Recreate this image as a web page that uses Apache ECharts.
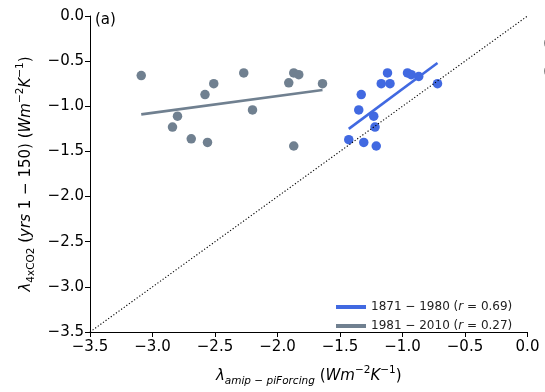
<!DOCTYPE html>
<html>
<head>
<meta charset="utf-8">
<script src="https://cdn.jsdelivr.net/npm/echarts@6/dist/echarts.min.js"></script>
<style>
html,body{margin:0;padding:0;background:#fff;}
#c{width:545px;height:392px;}
</style>
</head>
<body>
<div id="c"></div>
<script>
// ---- data ----
const blueX = [-1.12, -1.17, -1.10, -1.33, -1.35, -1.23, -1.22, -1.43, -1.31, -1.21, -0.96, -0.93, -0.87, -0.72];
const blueY = [-0.63, -0.75, -0.75, -0.87, -1.04, -1.11, -1.23, -1.37, -1.40, -1.44, -0.63, -0.65, -0.67, -0.75];
const grayX = [-3.09, -2.51, -2.58, -2.27, -2.20, -1.91, -1.87, -1.83, -1.64, -2.80, -2.84, -2.69, -2.56, -1.87];
const grayY = [-0.66, -0.75, -0.87, -0.63, -1.04, -0.74, -0.63, -0.65, -0.75, -1.11, -1.23, -1.36, -1.40, -1.44];
const blueFitX = [-1.43, -0.72];
const blueFitY = [-1.25, -0.52];
const grayFitX = [-3.09, -1.64];
const grayFitY = [-1.09, -0.82];
const oneToOneX = [-3.5, 0.0];
const oneToOneY = [-3.5, 0.0];
const blueName = '1871 − 1980 (r = 0.69)';
const grayName = '1981 − 2010 (r = 0.27)';
const legendRich = {
  '1871 − 1980 (r = 0.69)': '{n|1871 − 1980 (}{i|r}{n| = 0.69)}',
  '1981 − 2010 (r = 0.27)': '{n|1981 − 2010 (}{i|r}{n| = 0.27)}'
};
const axisMin = -3.5, axisMax = 0.0, axisStep = 0.5;

const pairs = (xs, ys) => xs.map((x, i) => [x, ys[i]]);
const fmt = v => v.toFixed(1).replace('-', '−');
const FONT = 'DejaVu Sans';
const BLUE = '#4169E1', GRAY = '#708090';

const chart = echarts.init(document.getElementById('c'), null, {renderer: 'canvas'});
const nameRich = {
  n:   {fontFamily: FONT, fontSize: 15, color: '#000', lineHeight: 22},
  it:  {fontFamily: FONT, fontSize: 15, fontStyle: 'italic', color: '#000', lineHeight: 22},
  sub: {fontFamily: FONT, fontSize: 10.5, fontStyle: 'italic', color: '#000', verticalAlign: 'bottom', lineHeight: 22},
  subn: {fontFamily: FONT, fontSize: 10.5, color: '#000', verticalAlign: 'bottom', lineHeight: 22},
  sup: {fontFamily: FONT, fontSize: 10.5, color: '#000', verticalAlign: 'top', lineHeight: 18}
};
const axisCommon = {
  type: 'value', min: axisMin, max: axisMax, interval: axisStep,
  splitLine: {show: false},
  axisLine: {show: true, onZero: false, lineStyle: {color: '#000', width: 1}},
  axisTick: {show: true, inside: false, length: 5, lineStyle: {color: '#000', width: 1}},
  axisLabel: {formatter: fmt, fontFamily: FONT, fontSize: 15, color: '#000'},
  nameLocation: 'middle'
};
chart.setOption({
  animation: false,
  backgroundColor: '#fff',
  grid: {left: 90, right: 17.5, top: 16, bottom: 49, containLabel: false},
  xAxis: Object.assign({}, axisCommon, {
    axisLabel: Object.assign({}, axisCommon.axisLabel, {margin: 8}),
    name: '{it|λ}{sub|amip − piForcing}{n| (}{it|Wm}{sup|−2}{it|K}{sup|−1}{n|)}',
    nameGap: 33,
    nameTextStyle: {rich: nameRich}
  }),
  yAxis: Object.assign({}, axisCommon, {
    axisLabel: Object.assign({}, axisCommon.axisLabel, {margin: 6}),
    name: '{it|λ}{subn|4xCO2}{n| (}{it|yrs}{n| 1 − 150) (}{it|Wm}{sup|−2}{it|K}{sup|−1}{n|)}',
    nameRotate: 90,
    nameGap: 50,
    nameTextStyle: {rich: nameRich}
  }),
  legend: {
    orient: 'vertical', left: 331, top: 296,
    itemWidth: 30, itemHeight: 4, itemGap: 7,
    icon: 'rect',
    data: [blueName, grayName],
    formatter: n => legendRich[n],
    textStyle: {fontFamily: FONT, fontSize: 12, color: '#222',
      rich: {n: {fontFamily: FONT, fontSize: 12, color: '#222'},
             i: {fontFamily: FONT, fontSize: 12, fontStyle: 'italic', color: '#222'}}}
  },
  graphic: [
    {type: 'text', left: 95, top: 13, style: {text: '(a)', font: '15px "DejaVu Sans"', fill: '#000'}},
    {type: 'text', x: 543.5, y: 38, style: {text: '0', font: '15px "DejaVu Sans"', fill: '#000'}},
    {type: 'text', x: 543.5, y: 66, style: {text: '0', font: '15px "DejaVu Sans"', fill: '#000'}}
  ],
  series: [
    {type: 'scatter', name: 'gray pts', data: pairs(grayX, grayY), symbolSize: 9.5,
     itemStyle: {color: GRAY, opacity: 1}, z: 2},
    {type: 'scatter', name: 'blue pts', data: pairs(blueX, blueY), symbolSize: 9.5,
     itemStyle: {color: BLUE, opacity: 1}, z: 2},
    {type: 'line', name: blueName, data: pairs(blueFitX, blueFitY), showSymbol: false, symbol: 'none',
     lineStyle: {color: BLUE, width: 2.6}, itemStyle: {color: BLUE}, z: 3},
    {type: 'line', name: grayName, data: pairs(grayFitX, grayFitY), showSymbol: false, symbol: 'none',
     lineStyle: {color: GRAY, width: 2.6}, itemStyle: {color: GRAY}, z: 3},
    {type: 'line', name: '1:1', data: pairs(oneToOneX, oneToOneY), showSymbol: false, symbol: 'none',
     lineStyle: {color: '#000', width: 1.1, type: [1.2, 2]}, z: 4}
  ]
});
</script>
</body>
</html>
